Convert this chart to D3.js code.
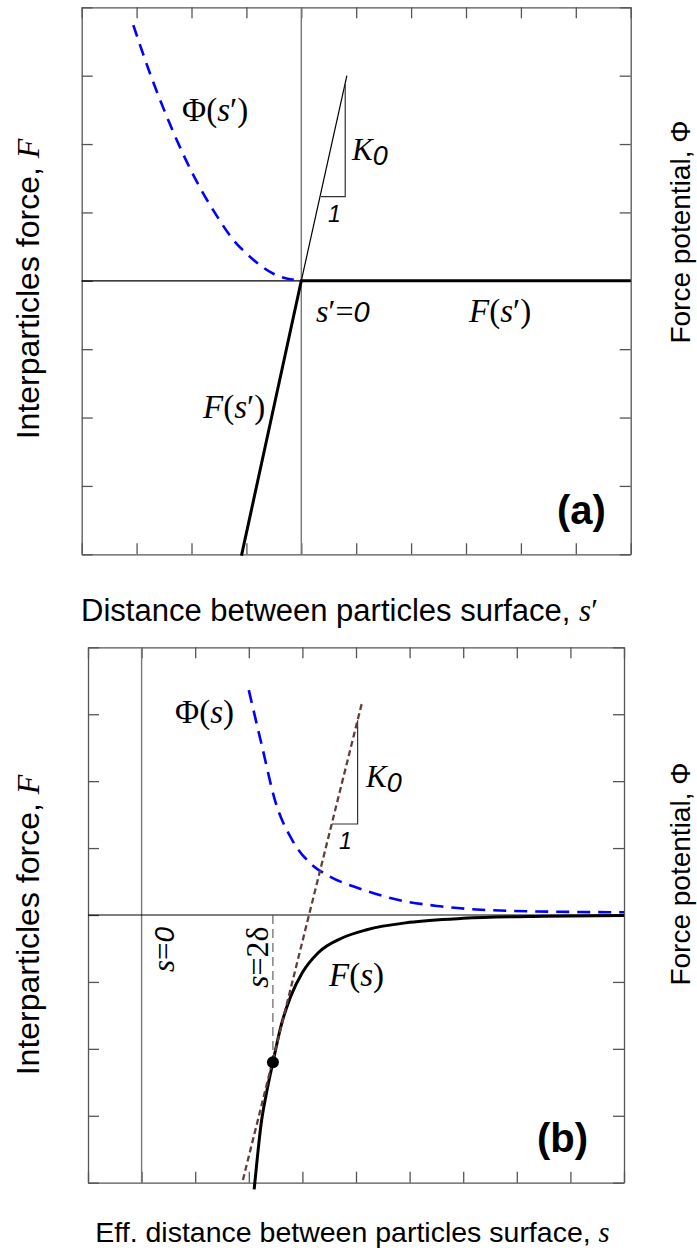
<!DOCTYPE html>
<html>
<head>
<meta charset="utf-8">
<script src="https://cdn.jsdelivr.net/npm/d3@7"></script>
<style>
  body { margin: 0; background: #fff; }
  .ser { font-family: "Liberation Serif", "Times New Roman", serif; }
  .san { font-family: "Liberation Sans", Arial, Helvetica, sans-serif; }
</style>
</head>
<body>
<div id="canvas"></div>
<script>
"use strict";

// Tick positions (no tick labels on this figure)
const xTicksA = [-4, -3, -2, -1, 0, 1, 2, 3, 4, 5, 6];
const xTicksB = [-1, 0, 1, 2, 3, 4, 5, 6, 7, 8, 9];
const yTicks = [-4, -3, -2, -1, 0, 1, 2, 3, 4];

// Panel (a): force potential Phi(s')
const phiAx = [-3.06, -2.75, -2.5, -2.0, -1.5, -1.24, -1.0, -0.5, 0];
const phiAy = [3.74, 3.02, 2.5, 1.6, 0.9, 0.6, 0.4, 0.1, 0];
// Panel (a): force F(s') (thick), stiffness line and slope triangle
const forceAx = [-1.09, 0, 6];
const forceAy = [-4.02, 0, 0];
const stiffAx = [0, 0.83];
const stiffAy = [0, 3.0];
const triAx = [0.357, 0.80, 0.80];
const triAy = [1.23, 1.23, 2.88];

// Panel (b): force potential Phi(s)
const phiBx = [2.0, 2.25, 2.49, 2.81, 3.15, 3.50, 4.05, 4.88, 5.57, 6.95, 9.0];
const phiBy = [3.36, 2.51, 1.71, 1.12, 0.77, 0.58, 0.40, 0.21, 0.13, 0.06, 0.04];
// Panel (b): force F(s)
const forceBx = [2.10, 2.16, 2.23, 2.32, 2.45, 2.60, 2.78, 3.00, 3.30, 3.75, 4.20, 5.00, 6.00, 7.50, 9.00];
const forceBy = [-4.10, -3.62, -3.12, -2.70, -2.20, -1.66, -1.22, -0.86, -0.56, -0.34, -0.22, -0.11, -0.05, -0.018, -0.006];
// Panel (b): tangent line, slope triangle, contact point s = 2 delta
const tangentBx = [1.89, 4.12];
const tangentBy = [-3.96, 3.20];
const triBx = [3.55, 4.03, 4.03];
const triBy = [1.36, 1.36, 2.91];
const contactB = { x: 2.45, y: -2.2 };

const zip = (xs, ys) => xs.map((x, i) => [x, ys[i]]);

let svgWidth = 697;
let svgHeight = 1256;

let svg = d3.select("#canvas")
    .append("svg")
    .attr("width", svgWidth)
    .attr("height", svgHeight);

// Builds the frame with inward ticks on all four sides
function makePanel(box, xDomain, xTicks) {
    let x = d3.scaleLinear().domain(xDomain).range([box.left, box.left + box.width]);
    let y = d3.scaleLinear().domain([-4, 4]).range([box.top + box.height, box.top]);
    let g = svg.append("g");

    const style = sel => {
        sel.selectAll("path").attr("stroke", "#555").attr("stroke-width", 1.3);
        sel.selectAll("line").attr("stroke", "#555").attr("stroke-width", 1.3);
    };
    g.append("g").attr("transform", `translate(0,${box.top})`)
        .call(d3.axisBottom(x).tickValues(xTicks).tickSize(11).tickSizeOuter(0).tickFormat("")).call(style);
    g.append("g").attr("transform", `translate(0,${box.top + box.height})`)
        .call(d3.axisTop(x).tickValues(xTicks).tickSize(11).tickSizeOuter(0).tickFormat("")).call(style);
    g.append("g").attr("transform", `translate(${box.left},0)`)
        .call(d3.axisRight(y).tickValues(yTicks).tickSize(11).tickSizeOuter(0).tickFormat("")).call(style);
    g.append("g").attr("transform", `translate(${box.left + box.width},0)`)
        .call(d3.axisLeft(y).tickValues(yTicks).tickSize(11).tickSizeOuter(0).tickFormat("")).call(style);
    return { g, x, y };
}

function drawLine(p, pts, opts) {
    let line = d3.line().x(d => p.x(d[0])).y(d => p.y(d[1]));
    if (opts.curve) line.curve(opts.curve);
    p.g.append("path")
        .attr("d", line(pts))
        .attr("fill", "none")
        .attr("stroke", opts.color)
        .attr("stroke-width", opts.width)
        .attr("stroke-dasharray", opts.dash || null);
}

// Rich label: parts = [{t, c: "ser"|"san", i: italic, dy, size}]
function label(g, x, y, size, parts, transform) {
    let t = g.append("text")
        .attr("x", x)
        .attr("y", y)
        .attr("font-size", size)
        .attr("fill", "#000");
    if (transform) t.attr("transform", transform).attr("x", 0).attr("y", 0);
    parts.forEach(p => {
        let s = t.append("tspan").attr("class", p.c).text(p.t);
        s.attr("font-style", p.i ? "italic" : "normal");
        if (p.b) s.attr("font-weight", "bold");
        if (p.dy) s.attr("dy", p.dy);
        if (p.size) s.attr("font-size", p.size);
    });
    return t;
}

// ---------------- Panel (a) ----------------
let pa = makePanel({ left: 81.7, top: 7.3, width: 549, height: 547 }, [-4, 6], xTicksA);

pa.g.append("line")
    .attr("x1", pa.x(0)).attr("x2", pa.x(0))
    .attr("y1", pa.y(4)).attr("y2", pa.y(-4))
    .attr("stroke", "#777").attr("stroke-width", 1.4);
pa.g.append("line")
    .attr("x1", pa.x(-4)).attr("x2", pa.x(6))
    .attr("y1", pa.y(0)).attr("y2", pa.y(0))
    .attr("stroke", "#000").attr("stroke-width", 1.2);

drawLine(pa, zip(phiAx, phiAy), { color: "#0000ff", width: 2.6, dash: "12,8", curve: d3.curveMonotoneX });
drawLine(pa, zip(stiffAx, stiffAy), { color: "#000", width: 1.2 });
drawLine(pa, zip(triAx, triAy), { color: "#333", width: 1.2 });
drawLine(pa, zip(forceAx, forceAy), { color: "#000", width: 3 });

label(pa.g, 182, 121, 33, [
    { t: "Φ", c: "ser" }, { t: "(", c: "ser" }, { t: "s", c: "ser", i: 1 }, { t: "′", c: "ser" }, { t: ")", c: "ser" }
]);
label(pa.g, 352, 160, 31, [{ t: "K", c: "ser", i: 1 }, { t: "0", c: "san", i: 1, dy: 5, size: 27 }]);
label(pa.g, 328, 222, 23, [{ t: "1", c: "san", i: 1 }]);
label(pa.g, 316, 322, 32, [
    { t: "s", c: "ser", i: 1 }, { t: "′", c: "ser" }, { t: "=", c: "ser" }, { t: "0", c: "san", i: 1, size: 29 }
]);
label(pa.g, 469, 322, 33, [
    { t: "F", c: "ser", i: 1 }, { t: "(", c: "ser" }, { t: "s", c: "ser", i: 1 }, { t: "′", c: "ser" }, { t: ")", c: "ser" }
]);
label(pa.g, 203, 418, 33, [
    { t: "F", c: "ser", i: 1 }, { t: "(", c: "ser" }, { t: "s", c: "ser", i: 1 }, { t: "′", c: "ser" }, { t: ")", c: "ser" }
]);
label(pa.g, 557, 524, 40, [{ t: "(a)", c: "san", b: 1 }]);

// ---------------- Panel (b) ----------------
let pb = makePanel({ left: 88, top: 647.3, width: 536, height: 535.4 }, [-1, 9], xTicksB);

pb.g.append("line")
    .attr("x1", pb.x(0)).attr("x2", pb.x(0))
    .attr("y1", pb.y(4)).attr("y2", pb.y(-4))
    .attr("stroke", "#777").attr("stroke-width", 1.4);
pb.g.append("line")
    .attr("x1", pb.x(-1)).attr("x2", pb.x(9))
    .attr("y1", pb.y(0)).attr("y2", pb.y(0))
    .attr("stroke", "#000").attr("stroke-width", 1.2);

// s = 2 delta guide
pb.g.append("line")
    .attr("x1", pb.x(contactB.x)).attr("x2", pb.x(contactB.x))
    .attr("y1", pb.y(0)).attr("y2", pb.y(contactB.y))
    .attr("stroke", "#444").attr("stroke-width", 1).attr("stroke-dasharray", "9,5");

drawLine(pb, zip(phiBx, phiBy), { color: "#0000ff", width: 2.6, dash: "13,8", curve: d3.curveMonotoneX });
drawLine(pb, zip(triBx, triBy), { color: "#333", width: 1.2 });
drawLine(pb, zip(forceBx, forceBy), { color: "#000", width: 3, curve: d3.curveMonotoneX });
drawLine(pb, zip(tangentBx, tangentBy), { color: "#643c3c", width: 2.3, dash: "6,3.5" });

pb.g.append("circle")
    .attr("cx", pb.x(contactB.x))
    .attr("cy", pb.y(contactB.y))
    .attr("r", 6)
    .attr("fill", "#000");

label(pb.g, 175, 723, 33, [
    { t: "Φ", c: "ser" }, { t: "(", c: "ser" }, { t: "s", c: "ser", i: 1 }, { t: ")", c: "ser" }
]);
label(pb.g, 366, 787, 31, [{ t: "K", c: "ser", i: 1 }, { t: "0", c: "san", i: 1, dy: 5, size: 27 }]);
label(pb.g, 339, 849, 23, [{ t: "1", c: "san", i: 1 }]);
label(pb.g, 329, 986, 33, [
    { t: "F", c: "ser", i: 1 }, { t: "(", c: "ser" }, { t: "s", c: "ser", i: 1 }, { t: ")", c: "ser" }
]);
label(pb.g, 0, 0, 31, [
    { t: "s", c: "ser", i: 1 }, { t: "=", c: "ser" }, { t: "0", c: "san", i: 1, size: 28 }
], "translate(174,972) rotate(-90)");
label(pb.g, 0, 0, 32, [
    { t: "s", c: "ser", i: 1 }, { t: "=", c: "ser" }, { t: "2δ", c: "ser" }
], "translate(268,988) rotate(-90)");
label(pb.g, 537, 1152, 40, [{ t: "(b)", c: "san", b: 1 }]);

// ---------------- Axis titles ----------------
function axisTitles(cx, xBase, xSize, xParts, yMid, phiMid) {
    label(svg, cx, xBase, xSize, xParts).attr("text-anchor", "middle");
    label(svg, 0, 0, 32, [
        { t: "Interparticles force, ", c: "san" }, { t: "F", c: "ser", i: 1 }
    ], `translate(39,${yMid}) rotate(-90)`).attr("text-anchor", "middle");
    label(svg, 0, 0, 28, [
        { t: "Force potential, Φ", c: "san" }
    ], `translate(690,${phiMid}) rotate(-90)`).attr("text-anchor", "middle");
}

axisTitles(339.5, 621, 31, [
    { t: "Distance between particles surface, ", c: "san" }, { t: "s", c: "ser", i: 1 }, { t: "′", c: "ser" }
], 289, 232);
axisTitles(352.5, 1242, 28.5, [
    { t: "Eff. distance between particles surface, ", c: "san" }, { t: "s", c: "ser", i: 1 }
], 925, 874);
</script>
</body>
</html>
